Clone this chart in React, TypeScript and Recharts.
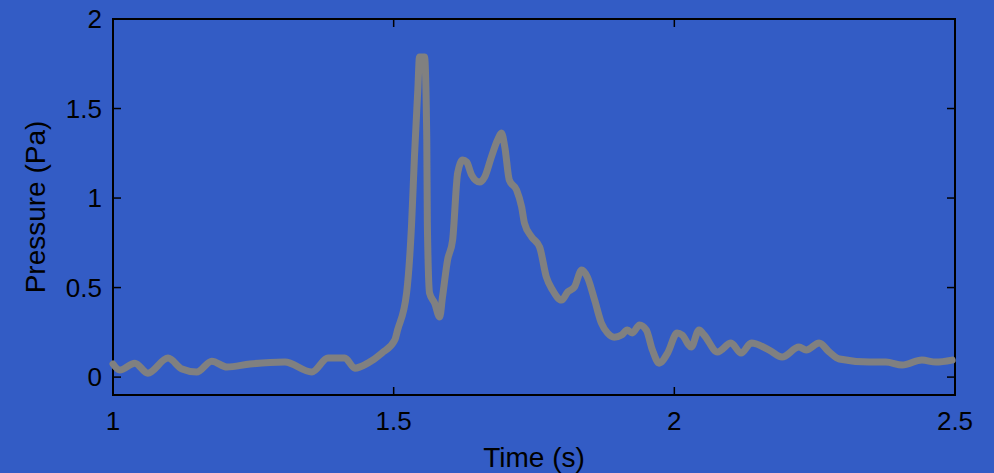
import { LineChart, Line, XAxis, YAxis, ReferenceArea } from 'recharts';

// traza de presion
const tiempos = [
  1.0, 1.012, 1.039, 1.062, 1.098, 1.123, 1.149, 1.176, 1.203, 1.244,
  1.306, 1.354, 1.383, 1.413, 1.431, 1.454, 1.479, 1.502, 1.507, 1.523,
  1.532, 1.537, 1.543, 1.546, 1.555, 1.559, 1.56, 1.564, 1.573, 1.582,
  1.587, 1.596, 1.605, 1.614, 1.623, 1.63, 1.639, 1.653, 1.662, 1.674,
  1.685, 1.692, 1.698, 1.706, 1.719, 1.728, 1.733, 1.746, 1.76, 1.772,
  1.783, 1.799, 1.81, 1.822, 1.835, 1.845, 1.858, 1.87, 1.881, 1.893,
  1.906, 1.916, 1.925, 1.938, 1.95, 1.961, 1.973, 1.988, 2.005, 2.014,
  2.03, 2.044, 2.053, 2.077, 2.101, 2.119, 2.137, 2.169, 2.192, 2.222,
  2.235, 2.258, 2.276, 2.294, 2.347, 2.377, 2.406, 2.441, 2.466, 2.495,
];
const presion = [
  0.073, 0.039, 0.078, 0.022, 0.106, 0.045, 0.028, 0.089, 0.056, 0.073,
  0.084, 0.028, 0.106, 0.106, 0.05, 0.078, 0.134, 0.207, 0.263, 0.469,
  0.86, 1.229, 1.603, 1.788, 1.788, 1.324, 0.86, 0.469, 0.413, 0.335,
  0.447, 0.654, 0.765, 1.14, 1.212, 1.201, 1.128, 1.089, 1.117, 1.229,
  1.324, 1.363, 1.285, 1.101, 1.045, 0.95, 0.86, 0.782, 0.726, 0.559,
  0.486, 0.43, 0.475, 0.503, 0.598, 0.559, 0.43, 0.302, 0.246, 0.223,
  0.235, 0.263, 0.246, 0.291, 0.263, 0.151, 0.078, 0.134, 0.246, 0.235,
  0.168, 0.263, 0.235, 0.14, 0.19, 0.134, 0.19, 0.151, 0.112, 0.168,
  0.151, 0.19, 0.14, 0.101, 0.084, 0.084, 0.067, 0.095, 0.084, 0.095,
];
const ticksX = [1, 1.5, 2, 2.5];
const ticksY = [0, 0.5, 1, 1.5, 2];

const data = tiempos.map((t, i) => ({ t, p: presion[i] }));

const W = 994;
const H = 473;
const M = { top: 19, right: 39, bottom: 0, left: 0 };
const AXIS_W = 113;
const AXIS_H = 78;
// bordes del area de trazado
const TOP = M.top;
const BOTTOM = H - AXIS_H;
const LEFT = AXIS_W;
const RIGHT = W - M.right;

const FONT = '"Liberation Sans", Arial, sans-serif';
const FS = 26;
const TL = 8;

// ticks hacia dentro, en los cuatro lados como en matlab
const BottomTick = ({ x, payload }: any) => (
  <g>
    <line x1={x} x2={x} y1={BOTTOM} y2={BOTTOM - TL} stroke="#000" strokeWidth={1.5} />
    <line x1={x} x2={x} y1={TOP} y2={TOP + TL} stroke="#000" strokeWidth={1.5} />
    <text x={x} y={BOTTOM + 35} textAnchor="middle" fontSize={FS} fontFamily={FONT} fill="#000">
      {payload.value}
    </text>
  </g>
);
const LeftTick = ({ y, payload }: any) => (
  <g>
    <line x1={LEFT} x2={LEFT + TL} y1={y} y2={y} stroke="#000" strokeWidth={1.5} />
    <line x1={RIGHT} x2={RIGHT - TL} y1={y} y2={y} stroke="#000" strokeWidth={1.5} />
    <text x={LEFT - 11} y={y + 9} textAnchor="end" fontSize={FS} fontFamily={FONT} fill="#000">
      {payload.value}
    </text>
  </g>
);

export default function App() {
  return (
    <div style={{ position: 'absolute', left: 0, top: 0, width: W, height: H, background: '#335cc5' }}>
      <LineChart width={W} height={H} data={data} margin={M}>
        <XAxis
          dataKey="t" type="number" domain={[1, 2.5]} ticks={ticksX} interval={0}
          height={AXIS_H} axisLine={false} tickLine={false} tickSize={0} tickMargin={0} tick={<BottomTick />}
          label={{
            content: () => (
              <text x={(LEFT + RIGHT) / 2} y={467} textAnchor="middle" fontSize={28} fontFamily={FONT} fill="#000">
                Time (s)
              </text>
            ),
          }}
        />
        <YAxis
          type="number" domain={[-0.1, 2]} ticks={ticksY} interval={0}
          width={AXIS_W} axisLine={false} tickLine={false} tickSize={0} tickMargin={0} tick={<LeftTick />}
          label={{
            content: () => {
              const cy = (TOP + BOTTOM) / 2;
              return (
                <text x={45} y={cy} transform={`rotate(-90, 45, ${cy})`} textAnchor="middle" fontSize={28} fontFamily={FONT} fill="#000">
                  Pressure (Pa)
                </text>
              );
            },
          }}
        />
        <ReferenceArea x1={1} x2={2.5} y1={-0.1} y2={2} stroke="#000" strokeWidth={2} fill="none" fillOpacity={0} />
        <Line
          dataKey="p" type="monotone" stroke="#808080" strokeWidth={7}
          strokeLinejoin="round" strokeLinecap="round" dot={false} isAnimationActive={false}
        />
      </LineChart>
    </div>
  );
}
